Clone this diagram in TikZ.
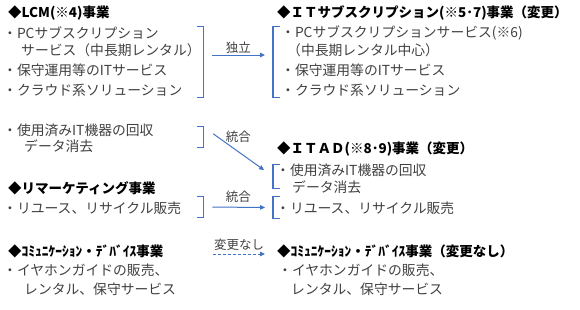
\documentclass[tikz,border=0pt]{standalone}
\usepackage{fontspec}
\setmainfont{Noto Sans CJK JP}
\usetikzlibrary{arrows.meta}
\definecolor{segblue}{HTML}{4472C4}
\definecolor{segink}{HTML}{404040}
\tikzset{
  head/.style={anchor=west, inner sep=0pt, font=\fontsize{13.5}{15}\selectfont\bfseries, text=black},
  item/.style={anchor=west, inner sep=0pt, font=\fontsize{13.8}{15}\selectfont, text=segink},
  lbl/.style={inner sep=0pt, font=\fontsize{12.5}{14}\selectfont, text=segink},
  brk/.style={minimum width=6.5pt, inner sep=0pt},
  brkline/.style={draw=segblue, line width=1.2pt},
  arr/.style={-{Triangle[length=5pt,width=4.5pt]}, draw=segblue, line width=1pt},
}
\begin{document}
\begin{tikzpicture}[x=1pt, y=-1pt]
  \useasboundingbox (0,0) rectangle (580,309);
  % left column: current segments
  \node[head] (lcmH) at (8,13) {◆LCM(※4)事業};
  \node[item] (lcm1) at (3,33) {・PCサブスクリプション};
  \node[item] (lcm1b) at (21,50) {サービス（中長期レンタル）};
  \node[item] (lcm2) at (3,70) {・保守運用等のITサービス};
  \node[item] (lcm3) at (3,90) {・クラウド系ソリューション};
  \node[item] (used1) at (3,130) {・使用済みIT機器の回収};
  \node[item] (used1b) at (24,146) {データ消去};
  \node[head] (remH) at (8,188) {◆リマーケティング事業};
  \node[item] (rem1) at (3,208) {・リユース、リサイクル販売};
  \node[head] (cdH) at (8,251) {◆ｺﾐｭﾆｹｰｼｮﾝ・ﾃﾞﾊﾞｲｽ事業};
  \node[item] (cd1) at (3,270) {・イヤホンガイドの販売、};
  \node[item] (cd1b) at (24,289) {レンタル、保守サービス};
  % right column: new segments
  \node[head] (itsH) at (277,13) {◆ＩＴサブスクリプション(※5･7)事業（変更）};
  \node[item] (its1) at (281,33) {・PCサブスクリプションサービス(※6)};
  \node[item] (its1b) at (287,50) {（中長期レンタル中心）};
  \node[item] (its2) at (281,70) {・保守運用等のITサービス};
  \node[item] (its3) at (281,90) {・クラウド系ソリューション};
  \node[head] (itadH) at (277,149) {◆ＩＴＡＤ(※8･9)事業（変更）};
  \node[item] (itad1) at (276,170) {・使用済みIT機器の回収};
  \node[item] (itad1b) at (292,187) {データ消去};
  \node[item] (rem2) at (276,208) {・リユース、リサイクル販売};
  \node[head] (cdH2) at (277,251) {◆ｺﾐｭﾆｹｰｼｮﾝ・ﾃﾞﾊﾞｲｽ事業（変更なし）};
  \node[item] (cd2) at (278,270) {・イヤホンガイドの販売、};
  \node[item] (cd2b) at (291,289) {レンタル、保守サービス};
  % brackets
  \node[brk, minimum height=70pt] (lcmR) at (200,62) {};
  \node[brk, minimum height=70pt] (itsL) at (276.5,62) {};
  \node[brk, minimum height=20pt] (usedR) at (200,137) {};
  \node[brk, minimum height=23pt] (itadL) at (276.5,176.5) {};
  \node[brk, minimum height=20pt] (remR) at (200,207) {};
  \node[brk, minimum height=21pt] (remL) at (276.5,207.5) {};
  \foreach \b in {lcmR,usedR,remR}
    \draw[brkline] (\b.north west) -- (\b.north east) -- (\b.south east) -- (\b.south west);
  \foreach \b in {itsL,itadL,remL}
    \draw[brkline] (\b.north east) -- (\b.north west) -- (\b.south west) -- (\b.south east);
  % connectors
  \draw[arr, shorten <=9pt, shorten >=8pt] ([yshift=7pt]lcmR.east) -- node[lbl, above=1.5pt]{独立} ([yshift=7pt]itsL.west);
  \draw[arr, shorten <=12pt, shorten >=11pt] (usedR.north east) -- node[lbl, above=9pt]{統合} (itadL.west);
  \draw[arr, shorten <=9pt, shorten >=8pt] (remR.east) -- node[lbl, above=4pt]{統合} (remL.west);
  \coordinate (cdS) at (213,254);
  \coordinate (cdE) at (265,254);
  \draw[arr, dash pattern=on 3pt off 2pt] (cdS) -- node[lbl, above=2.5pt]{変更なし} (cdE);
\end{tikzpicture}
\end{document}
